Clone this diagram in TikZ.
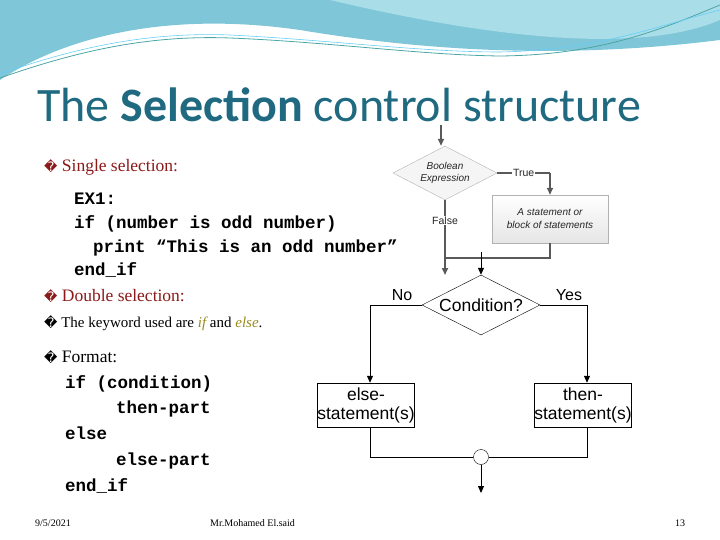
\documentclass[tikz,border=0pt]{standalone}
\usepackage{fontspec}
\setmainfont{Liberation Serif}
\newfontfamily\titlefont{Carlito}
\newfontfamily\codefont{Liberation Mono}
\newfontfamily\armfont{Liberation Sans}
\newfontfamily\symfont{DejaVu Sans}
\usetikzlibrary{shapes.geometric,arrows.meta}
\definecolor{titleblue}{HTML}{1F6A80}
\definecolor{darkred}{HTML}{8B1A1A}
\definecolor{olivetext}{HTML}{9A8A1E}
\definecolor{skyA}{HTML}{7FC6D8}
\definecolor{skyB}{HTML}{A9DDE8}
\tikzset{
	code/.style={anchor=base west,inner sep=0pt,font=\codefont\bfseries\fontsize{17.5}{17.5}\selectfont},
	bullet/.style={anchor=base west,inner sep=0pt,font=\fontsize{17.5}{17.5}\selectfont},
	flowbox/.style={draw,thin,minimum width=96pt,minimum height=44pt,font=\armfont\fontsize{17.5}{19}\selectfont,align=center,inner sep=0pt},
	grayline/.style={draw=gray!70!black,line width=1.6pt},
	blackline/.style={draw=black,line width=1pt},
	tip/.style={-{Triangle[length=7pt,width=6pt]}}
}
\newcommand{\bul}{{\symfont\fontsize{13}{13}\selectfont\char"FFFD}}
\begin{document}
\begin{tikzpicture}[x=1pt,y=-1pt]
	\useasboundingbox (0,0) rectangle (720,540);
	
	% header waves
	\fill[skyA] (0,0) -- (720,0) -- (720,40) .. controls (560,60) and (420,50) .. (300,30) .. controls (160,10) and (60,40) .. (0,80) -- cycle;
	\fill[skyB] (330,0) -- (720,0) -- (720,20) .. controls (650,50) and (520,45) .. (330,0);
	\draw[teal!70,line width=0.8pt] (0,78) .. controls (80,50) and (150,35) .. (230,38) .. controls (330,42) and (420,55) .. (500,56) .. controls (600,55) and (660,30) .. (720,5);
	\draw[cyan!60,line width=0.6pt] (0,74) .. controls (80,46) and (150,32) .. (230,35) .. controls (330,40) and (420,52) .. (500,52) .. controls (600,50) and (660,25) .. (720,10);
	
	% title and bullets
	\node[anchor=base west,inner sep=0pt,text=titleblue,font=\titlefont\fontsize{48}{48}\selectfont] (title) at (37,122) {The \textbf{Selection} control structure};
	\node[bullet,text=darkred] (single) at (44,172) {\bul\ Single selection:};
	\node[code] (ex1) at (74,205) {EX1:};
	\node[code] (ifodd) at (74,229) {if (number is odd number)};
	\node[code] (printodd) at (93,252) {print “This is an odd number”};
	\node[code] (endif1) at (74,275) {end\_if};
	\node[bullet,text=darkred] (double) at (44,301) {\bul\ Double selection:};
	\node[bullet,font=\fontsize{15}{15}\selectfont] (keyword) at (44,327) {\bul\ The keyword used are \textit{\color{olivetext}if} and \textit{\color{olivetext}else}.};
	\node[bullet] (format) at (44,362) {\bul\ Format:};
	\node[code] (ifcond) at (65,388) {if (condition)};
	\node[code] (thenpart) at (116,413) {then-part};
	\node[code] (elsekw) at (65,439) {else};
	\node[code] (elsepart) at (116,465) {else-part};
	\node[code] (endif2) at (65,491) {end\_if};
	
	% footer
	\node[anchor=base west,inner sep=0pt,font=\fontsize{10}{10}\selectfont] (date) at (35,526) {9/5/2021};
	\node[anchor=base west,inner sep=0pt,font=\fontsize{10}{10}\selectfont] (author) at (210,526) {Mr.Mohamed El.said};
	\node[anchor=base west,inner sep=0pt,font=\fontsize{10}{10}\selectfont] (page) at (675,526) {13};
	
	% single selection flowchart
	\node[diamond,draw=gray!60,fill=gray!8,aspect=1.9,minimum width=104pt,minimum height=54pt,inner sep=0pt,align=center,font=\armfont\itshape\fontsize{10}{12}\selectfont,text=gray!30!black] (bool) at (445,173) {Boolean\\Expression};
	\node[draw=gray!60,top color=white,bottom color=gray!20,minimum width=116pt,minimum height=48pt,align=center,inner sep=0pt,font=\armfont\itshape\fontsize{10}{13}\selectfont,text=gray!30!black] (block) at (550,219) {A statement or\\block of statements};
	\coordinate (topin) at (441,125);
	\coordinate (truecorner) at (bool.east -| block.north);
	\coordinate (falseout) at (445,275);
	\coordinate (joinright) at (block.south |- 0,258);
	\draw[grayline,tip] (topin) -- (topin |- bool.north);
	\draw[grayline] (bool.east) -- node[fill=white,inner sep=1pt,font=\armfont\fontsize{10.5}{10.5}\selectfont,text=gray!30!black] {True} (truecorner);
	\draw[grayline,tip] (truecorner) -- (block.north);
	\draw[grayline,tip] (bool.south) -- node[pos=0.27,fill=white,inner sep=1pt,font=\armfont\fontsize{10.5}{10.5}\selectfont,text=gray!30!black] {False} (falseout);
	\draw[grayline] (block.south) -- (joinright) -- (joinright -| bool.south);
	
	% double selection flowchart
	\node[diamond,draw,thin,aspect=2,minimum width=118pt,minimum height=60pt,inner sep=0pt,font=\armfont\fontsize{17.5}{17.5}\selectfont] (cond) at (481,305) {Condition?};
	\node[flowbox] (elsebox) at (366,405) {else-\\statement(s)};
	\node[flowbox] (thenbox) at (583,405) {then-\\statement(s)};
	\node[circle,draw,thin,fill=white,minimum size=15pt,inner sep=0pt] (merge) at (481,457) {};
	\coordinate (condin) at (481,252);
	\coordinate (noc) at (370,305);
	\coordinate (yesc) at (587,305);
	\coordinate (outend) at (481,493);
	\draw[blackline,tip] (condin) -- (cond.north);
	\draw[blackline] (cond.west) -- (noc) node[above=4pt,font=\armfont\fontsize{16}{16}\selectfont,xshift=32pt,inner sep=0pt] {No};
	\draw[blackline,tip] (noc) -- (noc |- elsebox.north);
	\draw[blackline] (cond.east) -- (yesc) node[above=4pt,font=\armfont\fontsize{16}{16}\selectfont,xshift=-18pt,inner sep=0pt] {Yes};
	\draw[blackline,tip] (yesc) -- (yesc |- thenbox.north);
	\draw[thin] (noc |- elsebox.south) |- (merge.west);
	\draw[thin] (yesc |- thenbox.south) |- (merge.east);
	\draw[blackline,tip] (merge.south) -- (outend);
\end{tikzpicture}
\end{document}
